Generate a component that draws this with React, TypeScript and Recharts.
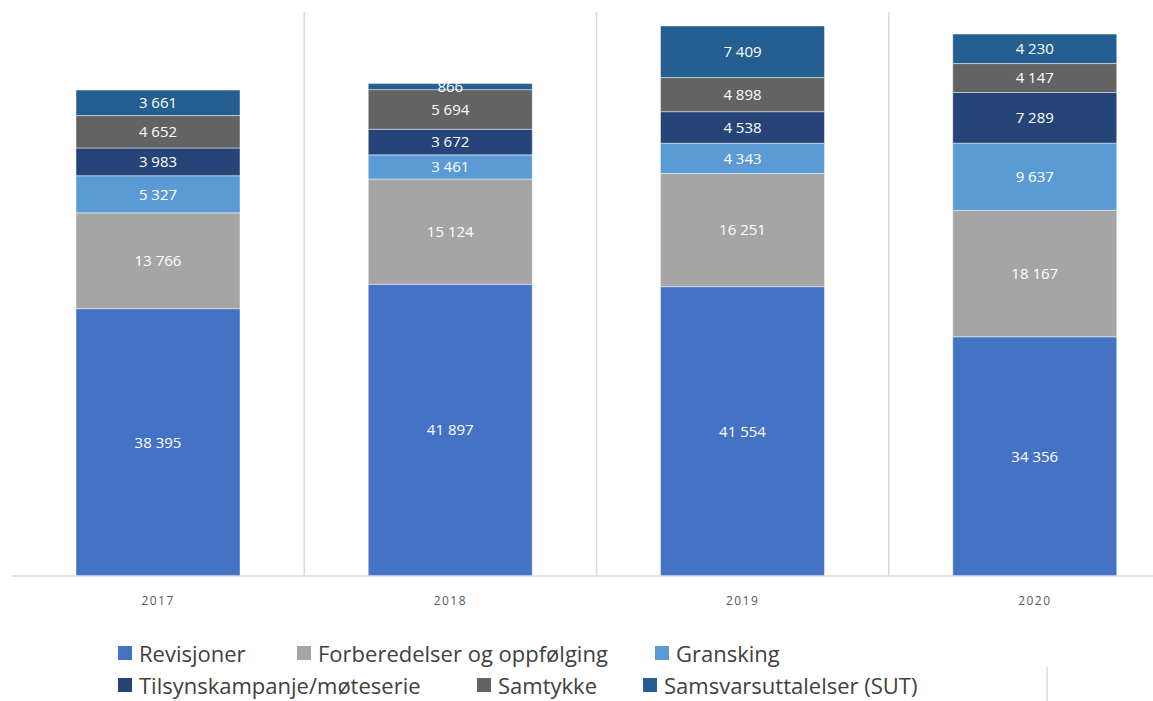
// Stablet søylediagram: antall per aktivitetstype og år
import { Bar, BarChart, CartesianGrid, XAxis, YAxis, LabelList } from 'recharts'

const years = ['2017', '2018', '2019', '2020']
const revisjoner = [38395, 41897, 41554, 34356]
const forberedelser = [13766, 15124, 16251, 18167]
const gransking = [5327, 3461, 4343, 9637]
const tilsyn = [3983, 3672, 4538, 7289]
const samtykke = [4652, 5694, 4898, 4147]
const sut = [3661, 866, 7409, 4230]

const series = [
  { key: 'rev', name: 'Revisjoner', values: revisjoner, color: '#4472C4' },
  { key: 'forb', name: 'Forberedelser og oppfølging', values: forberedelser, color: '#A5A5A5' },
  { key: 'gran', name: 'Gransking', values: gransking, color: '#5B9BD5' },
  { key: 'tils', name: 'Tilsynskampanje/møteserie', values: tilsyn, color: '#264478' },
  { key: 'samt', name: 'Samtykke', values: samtykke, color: '#636363' },
  { key: 'sut', name: 'Samsvarsuttalelser (SUT)', values: sut, color: '#255E91' },
]

// legend plassering (venstre kant av firkant, rad)
const legendPos = [
  { x: 118, y: 653 },
  { x: 297, y: 653 },
  { x: 655, y: 653 },
  { x: 118, y: 685 },
  { x: 477, y: 685 },
  { x: 643, y: 685 },
]

const data = years.map((year, i) => {
  const row: any = { year }
  series.forEach((s) => (row[s.key] = s.values[i]))
  return row
})

const fmt = (v: any) => String(v).replace(/\B(?=(\d{3})+(?!\d))/g, ' ')

const FONT = "'Open Sans', 'Noto Sans', sans-serif"

export default function App() {
  const W = 1200
  const H = 701
  const margin = { top: 12, right: 19, left: 12, bottom: 95 }

  // vertikale skillelinjer mellom kategoriene
  const verticalLines = ({ offset }: any) => {
    const step = offset.width / years.length
    const out: number[] = []
    for (let i = 1; i < years.length; i++) out.push(offset.left + i * step)
    return out
  }

  return (
    <div style={{ position: 'absolute', left: 0, top: 0, width: 1153, height: 701, overflow: 'hidden', background: '#fff', fontFamily: FONT }}>
      <BarChart width={W} height={H} data={data} margin={margin} barSize={164}>
        <CartesianGrid horizontal={false} stroke="#d9d9d9" strokeWidth={1.5} verticalCoordinatesGenerator={verticalLines} />
        <XAxis
          dataKey="year"
          height={30}
          axisLine={{ stroke: '#d9d9d9', strokeWidth: 1.5 }}
          tickLine={false}
          tick={{ fontSize: 12, fill: '#595959', fontFamily: FONT, letterSpacing: 1.5 }}
          tickMargin={14}
        />
        <YAxis hide domain={[0, 81000]} />
        {series.map((s) => (
          <Bar key={s.key} dataKey={s.key} stackId="a" fill={s.color} stroke="rgba(255,255,255,0.45)" strokeWidth={1} isAnimationActive={false}>
            <LabelList dataKey={s.key} position="center" formatter={fmt} fill="#ffffff" fontSize={15} fontFamily={FONT} />
          </Bar>
        ))}
      </BarChart>
      {series.map((s, i) => (
        <div key={s.key} style={{ position: 'absolute', left: legendPos[i].x, top: legendPos[i].y - 12, height: 24, lineHeight: '24px', display: 'flex', alignItems: 'center', whiteSpace: 'nowrap' }}>
          <span style={{ width: 14, height: 14, background: s.color, display: 'inline-block', marginRight: 7 }} />
          <span style={{ fontSize: 22, lineHeight: '24px', color: '#404040' }}>{s.name}</span>
        </div>
      ))}
      <div style={{ position: 'absolute', left: 1046, top: 667, width: 1.5, height: 34, background: '#e3e3e3' }} />
    </div>
  )
}
